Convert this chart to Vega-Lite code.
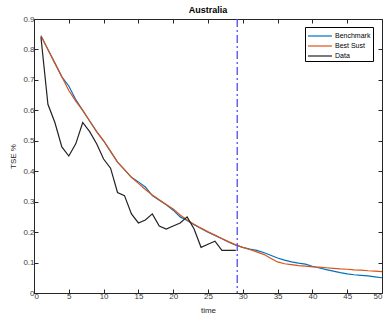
{
  "$schema": "https://vega.github.io/schema/vega-lite/v6.json",
  "autosize": {"type": "none"},
  "padding": {"left": 34, "top": 19, "right": 4, "bottom": 27},
  "width": 348,
  "height": 274,
  "background": "white",
  "title": {"text": "Australia", "fontSize": 9, "fontWeight": "bold", "font": "Liberation Sans", "color": "#000000", "offset": 0},
  "config": {
    "view": {"stroke": null},
    "font": "Liberation Sans",
    "axis": {
      "grid": false,
      "domainColor": "#262626",
      "tickColor": "#262626",
      "labelColor": "#404040",
      "titleColor": "#262626",
      "labelFont": "Liberation Sans",
      "titleFont": "Liberation Sans",
      "labelFontSize": 8,
      "titleFontSize": 8,
      "titleFontWeight": "normal",
      "tickSize": -4,
      "domainWidth": 1,
      "tickWidth": 1
    }
  },
  "datasets": {
    "series": [
      {"t": 1, "s": "Benchmark", "v": 0.845}, {"t": 2, "s": "Benchmark", "v": 0.80}, {"t": 3, "s": "Benchmark", "v": 0.755},
      {"t": 4, "s": "Benchmark", "v": 0.71}, {"t": 5, "s": "Benchmark", "v": 0.68}, {"t": 6, "s": "Benchmark", "v": 0.635},
      {"t": 7, "s": "Benchmark", "v": 0.60}, {"t": 8, "s": "Benchmark", "v": 0.565}, {"t": 9, "s": "Benchmark", "v": 0.53},
      {"t": 10, "s": "Benchmark", "v": 0.50}, {"t": 11, "s": "Benchmark", "v": 0.465}, {"t": 12, "s": "Benchmark", "v": 0.43},
      {"t": 13, "s": "Benchmark", "v": 0.405}, {"t": 14, "s": "Benchmark", "v": 0.38}, {"t": 15, "s": "Benchmark", "v": 0.365},
      {"t": 16, "s": "Benchmark", "v": 0.348}, {"t": 17, "s": "Benchmark", "v": 0.32}, {"t": 18, "s": "Benchmark", "v": 0.305},
      {"t": 19, "s": "Benchmark", "v": 0.29}, {"t": 20, "s": "Benchmark", "v": 0.272}, {"t": 21, "s": "Benchmark", "v": 0.25},
      {"t": 22, "s": "Benchmark", "v": 0.238}, {"t": 23, "s": "Benchmark", "v": 0.224}, {"t": 24, "s": "Benchmark", "v": 0.212},
      {"t": 25, "s": "Benchmark", "v": 0.20}, {"t": 26, "s": "Benchmark", "v": 0.189}, {"t": 27, "s": "Benchmark", "v": 0.178},
      {"t": 28, "s": "Benchmark", "v": 0.167}, {"t": 29, "s": "Benchmark", "v": 0.157}, {"t": 30, "s": "Benchmark", "v": 0.15},
      {"t": 31, "s": "Benchmark", "v": 0.144}, {"t": 32, "s": "Benchmark", "v": 0.14}, {"t": 33, "s": "Benchmark", "v": 0.133},
      {"t": 34, "s": "Benchmark", "v": 0.124}, {"t": 35, "s": "Benchmark", "v": 0.115}, {"t": 36, "s": "Benchmark", "v": 0.108},
      {"t": 37, "s": "Benchmark", "v": 0.102}, {"t": 38, "s": "Benchmark", "v": 0.098}, {"t": 39, "s": "Benchmark", "v": 0.095},
      {"t": 40, "s": "Benchmark", "v": 0.088}, {"t": 41, "s": "Benchmark", "v": 0.082}, {"t": 42, "s": "Benchmark", "v": 0.077},
      {"t": 43, "s": "Benchmark", "v": 0.072}, {"t": 44, "s": "Benchmark", "v": 0.067}, {"t": 45, "s": "Benchmark", "v": 0.063},
      {"t": 46, "s": "Benchmark", "v": 0.060}, {"t": 47, "s": "Benchmark", "v": 0.058}, {"t": 48, "s": "Benchmark", "v": 0.056},
      {"t": 49, "s": "Benchmark", "v": 0.053}, {"t": 50, "s": "Benchmark", "v": 0.050},
      {"t": 1, "s": "Best Sust", "v": 0.845}, {"t": 2, "s": "Best Sust", "v": 0.80}, {"t": 3, "s": "Best Sust", "v": 0.755},
      {"t": 4, "s": "Best Sust", "v": 0.71}, {"t": 5, "s": "Best Sust", "v": 0.665}, {"t": 6, "s": "Best Sust", "v": 0.63},
      {"t": 7, "s": "Best Sust", "v": 0.60}, {"t": 8, "s": "Best Sust", "v": 0.565}, {"t": 9, "s": "Best Sust", "v": 0.53},
      {"t": 10, "s": "Best Sust", "v": 0.50}, {"t": 11, "s": "Best Sust", "v": 0.465}, {"t": 12, "s": "Best Sust", "v": 0.43},
      {"t": 13, "s": "Best Sust", "v": 0.405}, {"t": 14, "s": "Best Sust", "v": 0.38}, {"t": 15, "s": "Best Sust", "v": 0.36},
      {"t": 16, "s": "Best Sust", "v": 0.34}, {"t": 17, "s": "Best Sust", "v": 0.322}, {"t": 18, "s": "Best Sust", "v": 0.306},
      {"t": 19, "s": "Best Sust", "v": 0.291}, {"t": 20, "s": "Best Sust", "v": 0.276}, {"t": 21, "s": "Best Sust", "v": 0.256},
      {"t": 22, "s": "Best Sust", "v": 0.24}, {"t": 23, "s": "Best Sust", "v": 0.226}, {"t": 24, "s": "Best Sust", "v": 0.213},
      {"t": 25, "s": "Best Sust", "v": 0.201}, {"t": 26, "s": "Best Sust", "v": 0.19}, {"t": 27, "s": "Best Sust", "v": 0.179},
      {"t": 28, "s": "Best Sust", "v": 0.168}, {"t": 29, "s": "Best Sust", "v": 0.158}, {"t": 30, "s": "Best Sust", "v": 0.15},
      {"t": 31, "s": "Best Sust", "v": 0.143}, {"t": 32, "s": "Best Sust", "v": 0.135}, {"t": 33, "s": "Best Sust", "v": 0.127},
      {"t": 34, "s": "Best Sust", "v": 0.114}, {"t": 35, "s": "Best Sust", "v": 0.102}, {"t": 36, "s": "Best Sust", "v": 0.096},
      {"t": 37, "s": "Best Sust", "v": 0.093}, {"t": 38, "s": "Best Sust", "v": 0.09}, {"t": 39, "s": "Best Sust", "v": 0.088},
      {"t": 40, "s": "Best Sust", "v": 0.086}, {"t": 41, "s": "Best Sust", "v": 0.085}, {"t": 42, "s": "Best Sust", "v": 0.083},
      {"t": 43, "s": "Best Sust", "v": 0.081}, {"t": 44, "s": "Best Sust", "v": 0.079}, {"t": 45, "s": "Best Sust", "v": 0.078},
      {"t": 46, "s": "Best Sust", "v": 0.076}, {"t": 47, "s": "Best Sust", "v": 0.075}, {"t": 48, "s": "Best Sust", "v": 0.073},
      {"t": 49, "s": "Best Sust", "v": 0.072}, {"t": 50, "s": "Best Sust", "v": 0.07},
      {"t": 1, "s": "Data", "v": 0.84}, {"t": 2, "s": "Data", "v": 0.62}, {"t": 3, "s": "Data", "v": 0.56},
      {"t": 4, "s": "Data", "v": 0.48}, {"t": 5, "s": "Data", "v": 0.45}, {"t": 6, "s": "Data", "v": 0.49},
      {"t": 7, "s": "Data", "v": 0.56}, {"t": 8, "s": "Data", "v": 0.53}, {"t": 9, "s": "Data", "v": 0.49},
      {"t": 10, "s": "Data", "v": 0.44}, {"t": 11, "s": "Data", "v": 0.41}, {"t": 12, "s": "Data", "v": 0.33},
      {"t": 13, "s": "Data", "v": 0.32}, {"t": 14, "s": "Data", "v": 0.26}, {"t": 15, "s": "Data", "v": 0.23},
      {"t": 16, "s": "Data", "v": 0.24}, {"t": 17, "s": "Data", "v": 0.26}, {"t": 18, "s": "Data", "v": 0.22},
      {"t": 19, "s": "Data", "v": 0.21}, {"t": 20, "s": "Data", "v": 0.22}, {"t": 21, "s": "Data", "v": 0.23},
      {"t": 22, "s": "Data", "v": 0.25}, {"t": 23, "s": "Data", "v": 0.21}, {"t": 24, "s": "Data", "v": 0.15},
      {"t": 25, "s": "Data", "v": 0.16}, {"t": 26, "s": "Data", "v": 0.17}, {"t": 27, "s": "Data", "v": 0.14},
      {"t": 28, "s": "Data", "v": 0.14}, {"t": 29, "s": "Data", "v": 0.14}
    ],
    "cutoff": [{"t": 29.2}]
  },
  "layer": [
    {
      "data": {"name": "series"},
      "mark": {"type": "line", "strokeWidth": 1.2},
      "encoding": {
        "x": {"field": "t", "type": "quantitative", "title": "time",
              "scale": {"domain": [0, 50], "nice": false},
              "axis": {"values": [0, 5, 10, 15, 20, 25, 30, 35, 40, 45, 50], "labelPadding": 3, "titlePadding": 6}},
        "y": {"field": "v", "type": "quantitative", "title": "TSE %",
              "scale": {"domain": [0, 0.9], "nice": false},
              "axis": {"values": [0, 0.1, 0.2, 0.3, 0.4, 0.5, 0.6, 0.7, 0.8, 0.9], "format": "~g", "labelPadding": 4, "titlePadding": 5}},
        "color": {"field": "s", "type": "nominal",
                  "scale": {"domain": ["Benchmark", "Best Sust", "Data"], "range": ["#0072BD", "#D95319", "#222222"]},
                  "legend": {"title": null, "orient": "none", "legendX": 271, "legendY": 8,
                             "symbolType": "M-1,0H3", "symbolSize": 144, "symbolStrokeWidth": 1.2,
                             "labelFontSize": 7, "labelFont": "Liberation Sans", "labelColor": "#000000",
                             "strokeColor": "#000000", "fillColor": "white", "padding": 2,
                             "rowPadding": 0, "labelOffset": 14}},
        "detail": {"field": "s"},
        "order": {"field": "t", "type": "quantitative"}
      }
    },
    {
      "data": {"name": "series"},
      "mark": {"type": "point", "opacity": 0},
      "encoding": {
        "x": {"field": "t", "type": "quantitative",
              "scale": {"domain": [0, 50], "nice": false},
              "axis": {"orient": "top", "values": [0, 5, 10, 15, 20, 25, 30, 35, 40, 45, 50], "labels": false, "title": null}},
        "y": {"field": "v", "type": "quantitative",
              "scale": {"domain": [0, 0.9], "nice": false},
              "axis": {"orient": "right", "values": [0, 0.1, 0.2, 0.3, 0.4, 0.5, 0.6, 0.7, 0.8, 0.9], "labels": false, "title": null}}
      }
    },
    {
      "data": {"name": "cutoff"},
      "mark": {"type": "rule", "color": "#4d4df2", "strokeWidth": 1.3, "strokeDash": [8, 3, 2, 3]},
      "encoding": {
        "x": {"field": "t", "type": "quantitative", "axis": null}
      }
    }
  ],
  "resolve": {"axis": {"x": "independent", "y": "independent"}}
}
